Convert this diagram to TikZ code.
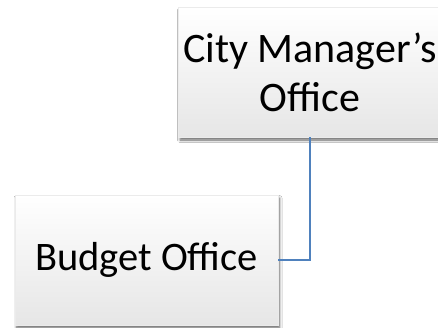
\documentclass[tikz,border=0pt]{standalone}
\usepackage{fontspec}
\setmainfont{Carlito}
\usetikzlibrary{shadows.blur}
\definecolor{linkblue}{HTML}{4F81BD}
\definecolor{boxbottom}{HTML}{E6E6E6}
\begin{document}
\begin{tikzpicture}[x=1pt,y=-1pt,
  orgbox/.style={rectangle, minimum width=263pt, minimum height=130pt,
    inner sep=0pt, align=center,
    top color=white, bottom color=boxbottom,
    draw=black!8, line width=0.4pt,
    blur shadow={shadow xshift=1.5pt, shadow yshift=-3pt,
      shadow blur radius=2.5pt, shadow blur steps=6, shadow opacity=60}},
  link/.style={draw=linkblue, line width=1.4pt}]
  \useasboundingbox (0,0) rectangle (438,328);
  \clip (0,0) rectangle (438,328);
  \fill[white] (0,0) rectangle (438,328);
  % upper box: runs past the right border
  \node[orgbox, font=\fontsize{42}{49}\selectfont] (mgr) at (310,72)
    {City Manager’s\\Office};
  % lower box
  \node[orgbox, font=\fontsize{40.5}{49}\selectfont] (budget) at (146.5,260)
    {Budget Office};
  % elbow connector
  \draw[link] (mgr.south) |- (budget.east);
\end{tikzpicture}
\end{document}
